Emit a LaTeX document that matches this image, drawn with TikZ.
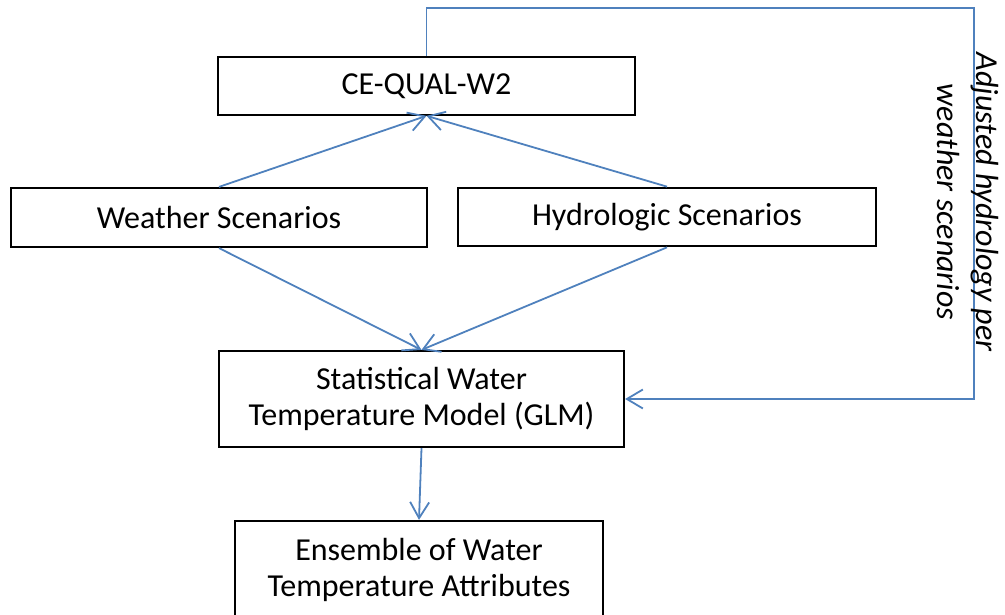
\documentclass[tikz,border=0pt]{standalone}
\usepackage{fontspec}
\setmainfont{Carlito}
\usepackage{xcolor}
\usepackage{tikz}
\usetikzlibrary{arrows.meta, positioning, calc}
\definecolor{flowblue}{HTML}{4F81BD}

\begin{document}
\begin{tikzpicture}[x=1pt, y=-1pt,
    every node/.style={font=\fontsize{32}{36}\selectfont},
    stepbox/.style={
        rectangle, draw=black, line width=2.2pt,
        fill=white, align=center, inner sep=0pt,
        minimum width=#1,
    },
    flow/.style={
        draw=flowblue, line width=1.8pt,
        -{Straight Barb[length=16pt, width=19pt, line width=1.8pt]},
    },
]
\useasboundingbox (0,0) rectangle (1005,615);

% ── Boxes ─────────────────────────────────────────────────────────────
\node[stepbox=417pt, minimum height=57.5pt] (cequal)  at (426.5, 86)  {CE-QUAL-W2};
\node[stepbox=416pt, minimum height=59pt]   (weather) at (219, 217.5) {Weather Scenarios};
\node[stepbox=418pt, minimum height=58.5pt] (hydro)   at (667, 217)   {Hydrologic Scenarios};
\node[stepbox=405pt, minimum height=96pt]   (glm)     at (421.5, 399) {Statistical Water\\Temperature Model (GLM)};
\node[stepbox=368pt, minimum height=97pt]   (ensem)   at (419, 569.5) {Ensemble of Water\\Temperature Attributes};

% ── Connectors ────────────────────────────────────────────────────────
\draw[flow] (weather.north) -- (cequal.south);
\draw[flow] (hydro.north)   -- (cequal.south);
\draw[flow] (weather.south) -- (glm.north);
\draw[flow] (hydro.south)   -- (glm.north);
\draw[flow] (glm.south)     -- (ensem.north);

% Feedback loop
\coordinate (fbcorner) at (974, 8);
\draw[flow] (cequal.north) |- (fbcorner) |- (glm.east);
\node[rotate=-90, align=center, font=\fontsize{32}{39}\selectfont\itshape]
    (fblabel) at (968, 202) {Adjusted hydrology per\\weather scenarios};

\end{tikzpicture}
\end{document}
